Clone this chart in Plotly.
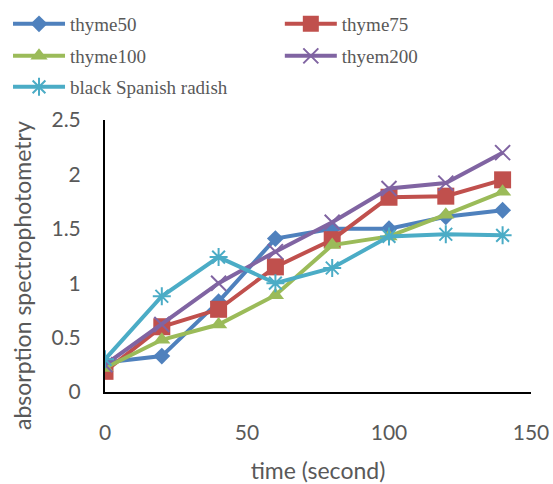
import plotly.graph_objects as go

time_s = [0, 20, 40, 60, 80, 100, 120, 140]
series_names = ["thyme50", "thyme75", "thyme100", "thyem200", "black Spanish radish"]
thyme50 = [0.27, 0.33, 0.83, 1.41, 1.50, 1.50, 1.61, 1.67]
thyme75 = [0.19, 0.60, 0.76, 1.15, 1.40, 1.79, 1.80, 1.95]
thyme100 = [0.22, 0.48, 0.62, 0.89, 1.35, 1.43, 1.63, 1.84]
thyem200 = [0.25, 0.62, 1.00, 1.29, 1.56, 1.87, 1.92, 2.20]
radish = [0.30, 0.88, 1.24, 1.00, 1.14, 1.43, 1.45, 1.44]

x_ticks = [0, 50, 100, 150]
y_ticks = [0, 0.5, 1, 1.5, 2, 2.5]
y_tick_text = ["0", "0.5", "1", "1.5", "2", "2.5"]
x_title = "time (second)"
y_title = "absorption spectrophotometry"

colors = ["#4F81BD", "#C0504D", "#9BBB59", "#8064A2", "#4BACC6"]
symbols = ["diamond", "square", "triangle-up", "x-thin-open", "asterisk-open"]
sizes = [13, 17, 15, 15, 15]
values = [thyme50, thyme75, thyme100, thyem200, radish]

# legend layout: two columns, three rows (one legend box per entry)
legend_ids = ["legend", "legend2", "legend3", "legend4", "legend5"]
legend_col_x = [0.0145, 0.506, 0.0145, 0.506, 0.0145]
legend_row_y = [0.9504, 0.9504, 0.8843, 0.8843, 0.8202]

fig = go.Figure()
for name, vals, c, s, sz, lg in zip(series_names, values, colors, symbols, sizes, legend_ids):
    thin = s.endswith("open")
    fig.add_trace(go.Scatter(
        x=time_s, y=vals, name=name, mode="lines+markers",
        legend=lg,
        line=dict(color=c, width=4),
        marker=dict(symbol=s, size=sz, color=c,
                    line=dict(color=c, width=2 if thin else 0)),
    ))

text_color = "#595959"
legend_font = dict(family="Liberation Serif", size=19, color=text_color)
legends = {}
for lg, lx, ly in zip(legend_ids, legend_col_x, legend_row_y):
    legends[lg] = dict(
        orientation="v", xref="container", yref="container",
        x=lx, y=ly, xanchor="left", yanchor="middle",
        itemwidth=52, font=legend_font, bgcolor="rgba(0,0,0,0)",
    )

fig.update_layout(
    width=553, height=484,
    margin=dict(l=105, r=22, t=120, b=92, autoexpand=False),
    paper_bgcolor="white", plot_bgcolor="white",
    showlegend=True,
    xaxis=dict(
        range=[0, 150], tickvals=x_ticks, showgrid=False, zeroline=False,
        showline=True, linecolor="black", linewidth=2, ticks="",
        ticklabelstandoff=21,
        tickfont=dict(family="Lato", size=21, color=text_color),
        title=dict(text=x_title, font=dict(family="Lato", size=23, color=text_color), standoff=21),
    ),
    yaxis=dict(
        range=[0, 2.5], tickvals=y_ticks, ticktext=y_tick_text, showgrid=False, zeroline=False,
        showline=True, linecolor="black", linewidth=2, ticks="",
        ticklabelstandoff=18,
        tickfont=dict(family="Lato", size=21, color=text_color),
    ),
    annotations=[dict(
        text=y_title, textangle=-90, xref="paper", yref="paper",
        x=-0.195, y=0.43, xanchor="center", yanchor="middle", showarrow=False,
        font=dict(family="Lato", size=23, color=text_color),
    )],
)
fig.update_layout(**legends)

fig.write_html("out.html", config={"displayModeBar": False},
               post_script="document.body.style.margin='0';")
